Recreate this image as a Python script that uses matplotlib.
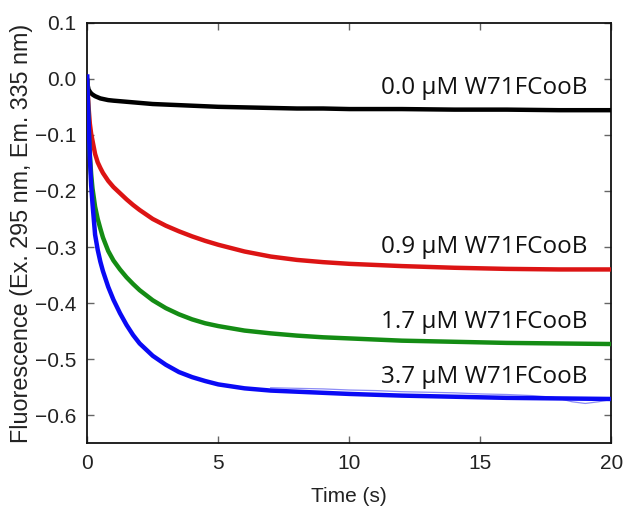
import matplotlib
matplotlib.use("Agg")
import matplotlib.pyplot as plt

# fitted traces, read point by point (time in s, fluorescence change)
t_fit = [0.0, 0.02, 0.05, 0.1, 0.15, 0.2, 0.3, 0.4, 0.5, 0.6, 0.8, 1.0,
         1.25, 1.5, 1.75, 2.0, 2.5, 3.0, 3.5, 4.0, 4.5, 5.0, 6.0, 7.0,
         8.0, 9.0, 10.0, 12.0, 14.0, 16.0, 18.0, 20.0]

f_0_0 = [0.0, -0.012, -0.019, -0.023, -0.026, -0.028, -0.031, -0.033, -0.035,
         -0.036, -0.038, -0.039, -0.040, -0.041, -0.042, -0.043, -0.045, -0.046,
         -0.047, -0.048, -0.049, -0.050, -0.051, -0.052, -0.053, -0.053, -0.054,
         -0.054, -0.055, -0.055, -0.056, -0.056]

f_0_9 = [0.0, -0.025, -0.050, -0.080, -0.098, -0.110, -0.134, -0.149, -0.159,
         -0.168, -0.182, -0.193, -0.204, -0.215, -0.225, -0.234, -0.250, -0.262,
         -0.272, -0.281, -0.289, -0.296, -0.308, -0.317, -0.323, -0.327, -0.330,
         -0.334, -0.337, -0.339, -0.340, -0.340]

f_1_7 = [0.0, -0.030, -0.075, -0.135, -0.170, -0.195, -0.228, -0.250, -0.267,
         -0.283, -0.307, -0.324, -0.340, -0.354, -0.366, -0.377, -0.395, -0.409,
         -0.420, -0.429, -0.436, -0.441, -0.449, -0.454, -0.458, -0.461, -0.463,
         -0.467, -0.469, -0.471, -0.472, -0.473]

f_3_7 = [0.008, -0.030, -0.075, -0.140, -0.190, -0.222, -0.278, -0.305, -0.326,
         -0.343, -0.371, -0.394, -0.418, -0.439, -0.457, -0.472, -0.494, -0.510,
         -0.523, -0.532, -0.539, -0.545, -0.552, -0.556, -0.558, -0.560, -0.562,
         -0.565, -0.567, -0.569, -0.570, -0.571]

# raw signal of the 3.7 uM run where it separates from the fit
t_raw_3_7 = [7.0, 8.0, 9.0, 10.0, 11.0, 12.0, 13.0, 14.0, 15.0, 16.0, 17.0,
             17.8, 18.5, 19.0, 19.5, 20.0]
f_raw_3_7 = [-0.551, -0.552, -0.553, -0.555, -0.556, -0.558, -0.559, -0.560,
             -0.562, -0.563, -0.565, -0.568, -0.576, -0.579, -0.576, -0.572]

series = [
    ("0.0 µM W71FCooB", f_0_0, "#000000", -0.017),
    ("0.9 µM W71FCooB", f_0_9, "#dc1414", -0.300),
    ("1.7 µM W71FCooB", f_1_7, "#148c14", -0.433),
    ("3.7 µM W71FCooB", f_3_7, "#0a0af5", -0.531),
]

plt.rcParams["font.family"] = ["Liberation Sans", "DejaVu Sans"]

fig = plt.figure(figsize=(6.23, 5.08), dpi=100)
ax = fig.add_axes([0.140, 0.1274, 0.8415, 0.8279])

ax.plot(t_raw_3_7, f_raw_3_7, color="#8c8cf5", lw=0.9, zorder=2)

for label, values, color, label_y in series:
    ax.plot(t_fit, values, color=color, lw=3.2, solid_capstyle="butt",
            solid_joinstyle="round", zorder=3)
    ax.text(19.1, label_y, label, ha="right", va="center", fontsize=17.5,
            family=["Open Sans", "DejaVu Sans"], color="#111111")

ax.set_xlim(0, 20)
ax.set_ylim(-0.65, 0.1)
ax.set_xticks([0, 5, 10, 15, 20])
ax.set_yticks([0.1, 0.0, -0.1, -0.2, -0.3, -0.4, -0.5, -0.6])
ax.set_yticklabels(["0.1", "0.0", "−0.1", "−0.2", "−0.3", "−0.4", "−0.5", "−0.6"])

ax.tick_params(direction="in", length=5, width=1.0, color="#666666",
               labelsize=15, labelcolor="#222222", top=True, right=True, pad=8)
for spine in ax.spines.values():
    spine.set_linewidth(1.3)
    spine.set_color("#111111")

ax.set_xlabel("Time (s)", fontsize=15, color="#222222", labelpad=10)
ax.set_ylabel("Fluorescence (Ex. 295 nm, Em. 335 nm)", fontsize=16.8,
              color="#222222", labelpad=1.0)

fig.savefig("out.png", dpi=100)
